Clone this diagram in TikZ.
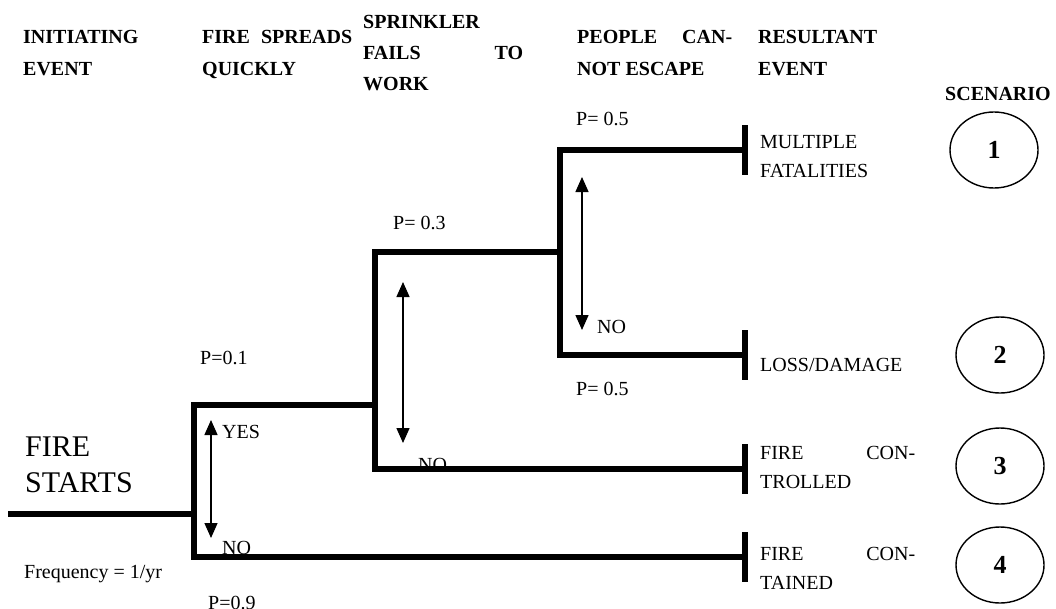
\documentclass[tikz,border=0pt]{standalone}
\usepackage{fontspec}
\setmainfont{Liberation Serif}
\usetikzlibrary{arrows.meta,shapes.geometric}
\begin{document}
\begin{tikzpicture}[x=1pt,y=-1pt,
  branch/.style={line width=6pt, line join=miter},
  endbar/.style={line width=6pt},
  twoway/.style={line width=1.4pt, {Triangle[length=15pt,width=13pt]}-{Triangle[length=15pt,width=13pt]}},
  hdr/.style={font=\fontsize{20}{32}\selectfont\bfseries, inner sep=0pt, align=left, anchor=north west},
  lbl/.style={font=\fontsize{20}{24}\selectfont, inner sep=0pt, anchor=base west},
  res/.style={font=\fontsize{20}{29}\selectfont, inner sep=0pt, align=left, anchor=north west},
  scen/.style={ellipse, draw, line width=1.4pt, minimum width=88pt, minimum height=76pt, inner sep=0pt, font=\fontsize{26}{26}\selectfont\bfseries}]
\useasboundingbox (0,0) rectangle (1056,608);

% headers
\node[hdr] (h1) at (23,30) {INITIATING\\EVENT};
\node[hdr] (h2) at (202,30) {\makebox[150pt][s]{FIRE\hfil SPREADS}\\QUICKLY};
\node[hdr, font=\fontsize{20}{31}\selectfont\bfseries] (h3) at (363,15) {SPRINKLER\\\makebox[160pt][s]{FAILS\hfil TO}\\WORK};
\node[hdr] (h4) at (577,30) {\makebox[155pt][s]{PEOPLE\hfil CAN-}\\NOT ESCAPE};
\node[hdr] (h5) at (758,30) {RESULTANT\\EVENT};
\node[hdr] (h6) at (945,87) {SCENARIO};

% initiating event
\node[font=\fontsize{30}{36}\selectfont, inner sep=0pt, align=left, anchor=north west] (fs) at (25,437) {FIRE\\STARTS};
\node[lbl] (freq) at (24,578) {Frequency = 1/yr};

% tree coordinates
\coordinate (s) at (8,514);
\coordinate (n1) at (194,514);
\coordinate (v1t) at (194,405);
\coordinate (v1b) at (194,557);
\coordinate (n2) at (375,405);
\coordinate (v2t) at (375,252);
\coordinate (v2b) at (375,469);
\coordinate (n3) at (560,252);
\coordinate (v3t) at (560,150);
\coordinate (v3b) at (560,355);
\coordinate (e1) at (745,150);
\coordinate (e2) at (745,355);
\coordinate (e3) at (745,469);
\coordinate (e4) at (745,557);

\draw[branch] (s) -- (n1);
\draw[branch] (n2) -- (v1t) -- (v1b) -- (e4);
\draw[branch] (n3) -- (v2t) -- (v2b) -- (e3);
\draw[branch] (e1) -- (v3t) -- (v3b) -- (e2);
\foreach \e in {e1,e2,e3,e4}
  \draw[endbar] ([yshift=25pt]\e) -- ([yshift=-25pt]\e);

% yes/no arrows
\coordinate (a1t) at (211,420); \coordinate (a1b) at (211,538);
\coordinate (a2t) at (403,282); \coordinate (a2b) at (403,443);
\coordinate (a3t) at (582,177); \coordinate (a3b) at (582,330);
\draw[twoway] (a1t) -- (a1b);
\draw[twoway] (a2t) -- (a2b);
\draw[twoway] (a3t) -- (a3b);

\node[lbl] (yes1) at (222,438) {YES};
\node[lbl] (no1) at (222,554) {NO};
\node[lbl] (no2) at (418,471) {NO};
\node[lbl] (no3) at (597,333) {NO};

% probabilities
\node[lbl] (p1) at (200,364) {P=0.1};
\node[lbl] (p9) at (208,609) {P=0.9};
\node[lbl] (p3) at (393,229) {P= 0.3};
\node[lbl] (p5a) at (576,125) {P= 0.5};
\node[lbl] (p5b) at (576,395) {P= 0.5};

% resultant events
\node[res] (r1) at (760,135) {MULTIPLE\\FATALITIES};
\node[lbl] (r2) at (760,371) {LOSS/DAMAGE};
\node[res] (r3) at (760,446) {\makebox[155pt][s]{FIRE\hfil CON-}\\TROLLED};
\node[res] (r4) at (760,547) {\makebox[155pt][s]{FIRE\hfil CON-}\\TAINED};

% scenarios
\node[scen] (c1) at (994,150) {1};
\node[scen] (c2) at (1000,355) {2};
\node[scen] (c3) at (1000,466) {3};
\node[scen] (c4) at (1000,565) {4};
\end{tikzpicture}
\end{document}
